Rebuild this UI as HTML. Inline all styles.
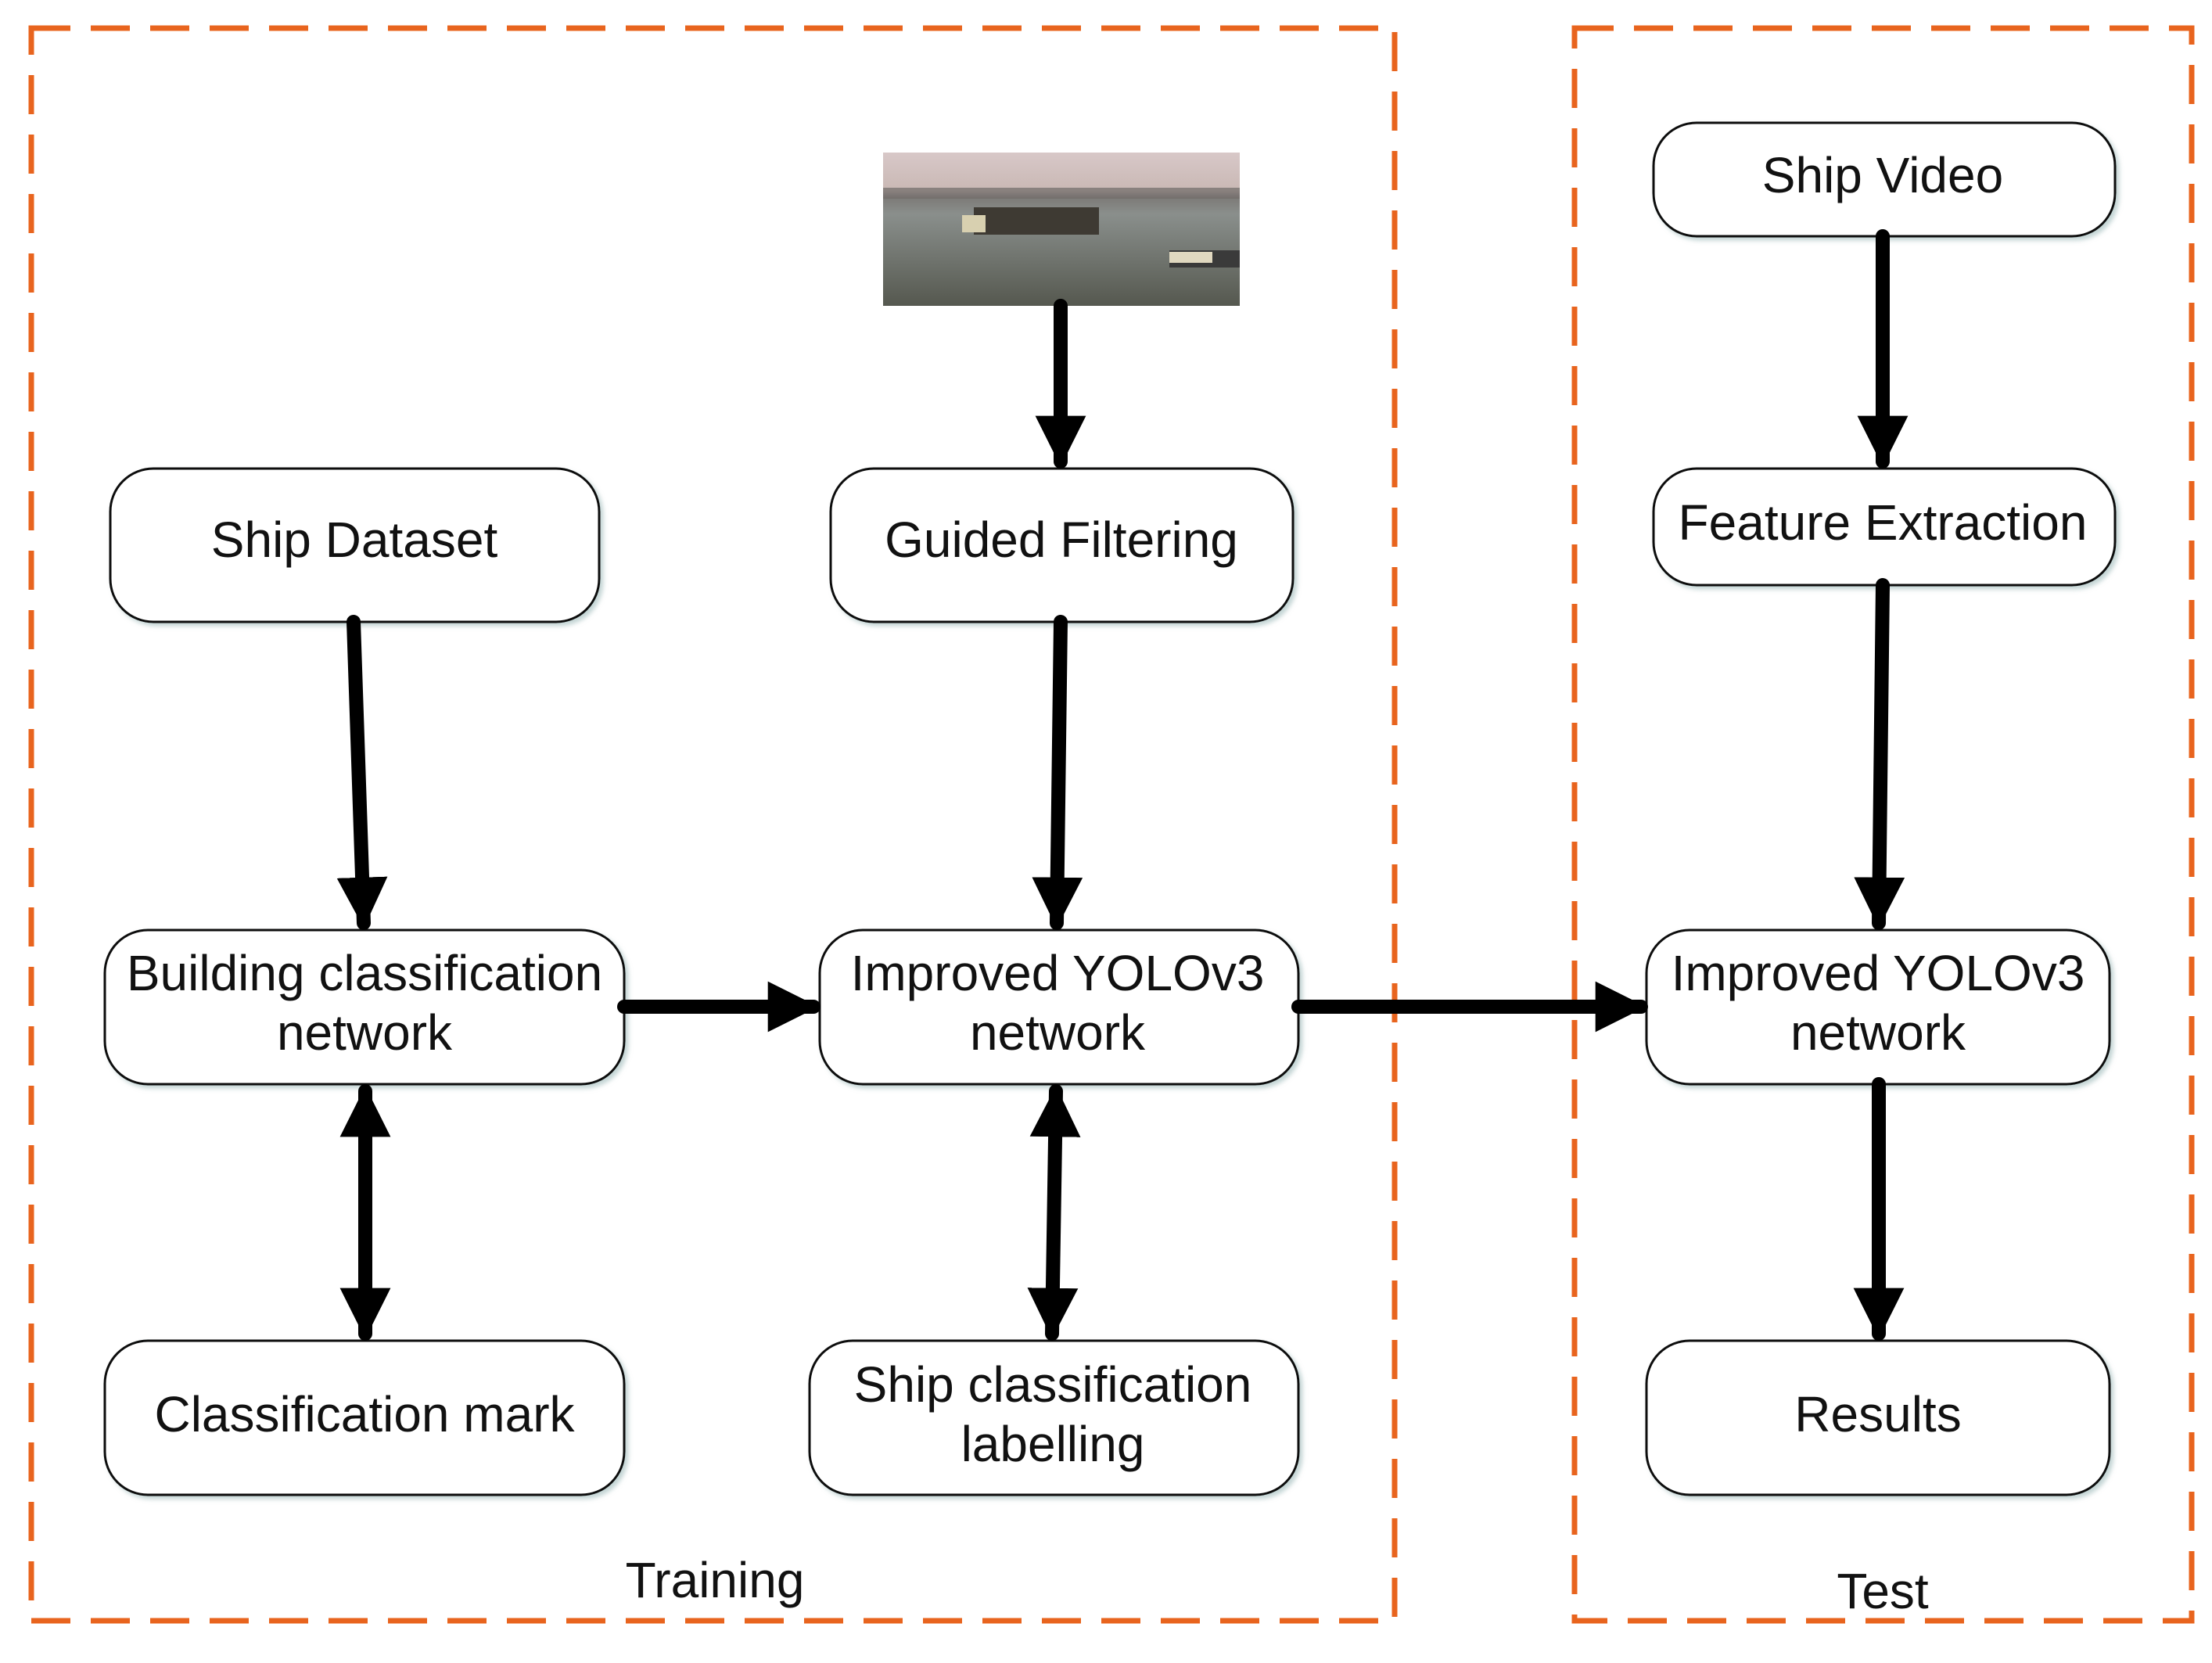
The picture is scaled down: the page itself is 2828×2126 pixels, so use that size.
<!DOCTYPE html>
<html><head><style>
html,body{margin:0;padding:0;background:#fff;}
body{width:2828px;height:2121px;position:relative;overflow:hidden;font-family:"Liberation Sans",sans-serif;}
</style></head><body>
<svg width="2828" height="2121" viewBox="0 0 2828 2121" xmlns="http://www.w3.org/2000/svg">
<defs>
<marker id="ah" viewBox="0 0 10 10" refX="9" refY="5" markerWidth="3.6" markerHeight="3.6" orient="auto-start-reverse" markerUnits="strokeWidth"><path d="M0,0 L10,5 L0,10 z" fill="#000"/></marker>
<filter id="sh" x="-5%" y="-5%" width="115%" height="120%"><feDropShadow dx="4" dy="4" stdDeviation="3" flood-color="#8aa" flood-opacity="0.5"/></filter>
<linearGradient id="sky" x1="0" y1="0" x2="0" y2="1">
<stop offset="0" stop-color="#d8c8c8"/><stop offset="0.25" stop-color="#c9b8b4"/><stop offset="0.3" stop-color="#7d7b78"/><stop offset="0.4" stop-color="#8a8f8c"/><stop offset="1" stop-color="#55584f"/></linearGradient>
</defs>
<g fill="none" stroke="#E8641E" stroke-width="7" stroke-dasharray="50 26">
<rect x="40" y="36" width="1743" height="2036"/>
<rect x="2013" y="36" width="789" height="2036"/>
</g>
<rect x="1129" y="195" width="456" height="196" fill="url(#sky)"/>
<rect x="1129" y="240" width="456" height="14" fill="#6e6a66" opacity="0.7"/>
<rect x="1245" y="265" width="160" height="35" fill="#3e3a33"/>
<rect x="1230" y="275" width="30" height="22" fill="#d8d0b0"/>
<rect x="1495" y="320" width="90" height="22" fill="#3a3a3a"/>
<rect x="1495" y="322" width="55" height="14" fill="#e0d8c0"/>
<g fill="#fff" stroke="#111" stroke-width="3" filter="url(#sh)">
<rect x="141" y="599" width="625" height="196" rx="55"/>
<rect x="1062" y="599" width="591" height="196" rx="55"/>
<rect x="2114" y="157" width="590" height="145" rx="55"/>
<rect x="2114" y="599" width="590" height="149" rx="55"/>
<rect x="134" y="1189" width="664" height="197" rx="55"/>
<rect x="1048" y="1189" width="612" height="197" rx="55"/>
<rect x="2105" y="1189" width="592" height="197" rx="55"/>
<rect x="134" y="1714" width="664" height="197" rx="55"/>
<rect x="1035" y="1714" width="625" height="197" rx="55"/>
<rect x="2105" y="1714" width="592" height="197" rx="55"/>
</g>
<g stroke="#000" stroke-width="18" stroke-linecap="round" fill="none">
<path d="M452,795 L465,1180" marker-end="url(#ah)"/>
<path d="M1356,795 L1351,1180" marker-end="url(#ah)"/>
<path d="M1356,391 L1356,590" marker-end="url(#ah)"/>
<path d="M2407,302 L2407,590" marker-end="url(#ah)"/>
<path d="M2407,748 L2402,1180" marker-end="url(#ah)"/>
<path d="M2402,1386 L2402,1705" marker-end="url(#ah)"/>
<path d="M798,1287 L1040,1287" marker-end="url(#ah)"/>
<path d="M1660,1287 L2098,1287" marker-end="url(#ah)"/>
<path d="M467,1395 L467,1705" marker-start="url(#ah)" marker-end="url(#ah)"/>
<path d="M1350,1395 L1345,1705" marker-start="url(#ah)" marker-end="url(#ah)"/>
</g>
<g font-family="Liberation Sans, sans-serif" font-size="64" fill="#111" text-anchor="middle">
<text x="453" y="712">Ship Dataset</text>
<text x="1357" y="712">Guided Filtering</text>
<text x="2407" y="246">Ship Video</text>
<text x="2407" y="690">Feature Extraction</text>
<text x="466" y="1266">Building classification</text>
<text x="466" y="1342">network</text>
<text x="1352" y="1266">Improved YOLOv3</text>
<text x="1352" y="1342">network</text>
<text x="2401" y="1266">Improved YOLOv3</text>
<text x="2401" y="1342">network</text>
<text x="466" y="1830">Classification mark</text>
<text x="1346" y="1792">Ship classification</text>
<text x="1346" y="1868">labelling</text>
<text x="2401" y="1830">Results</text>
<text x="914" y="2042">Training</text>
<text x="2407" y="2056">Test</text>
</g>
</svg>
</body></html>
